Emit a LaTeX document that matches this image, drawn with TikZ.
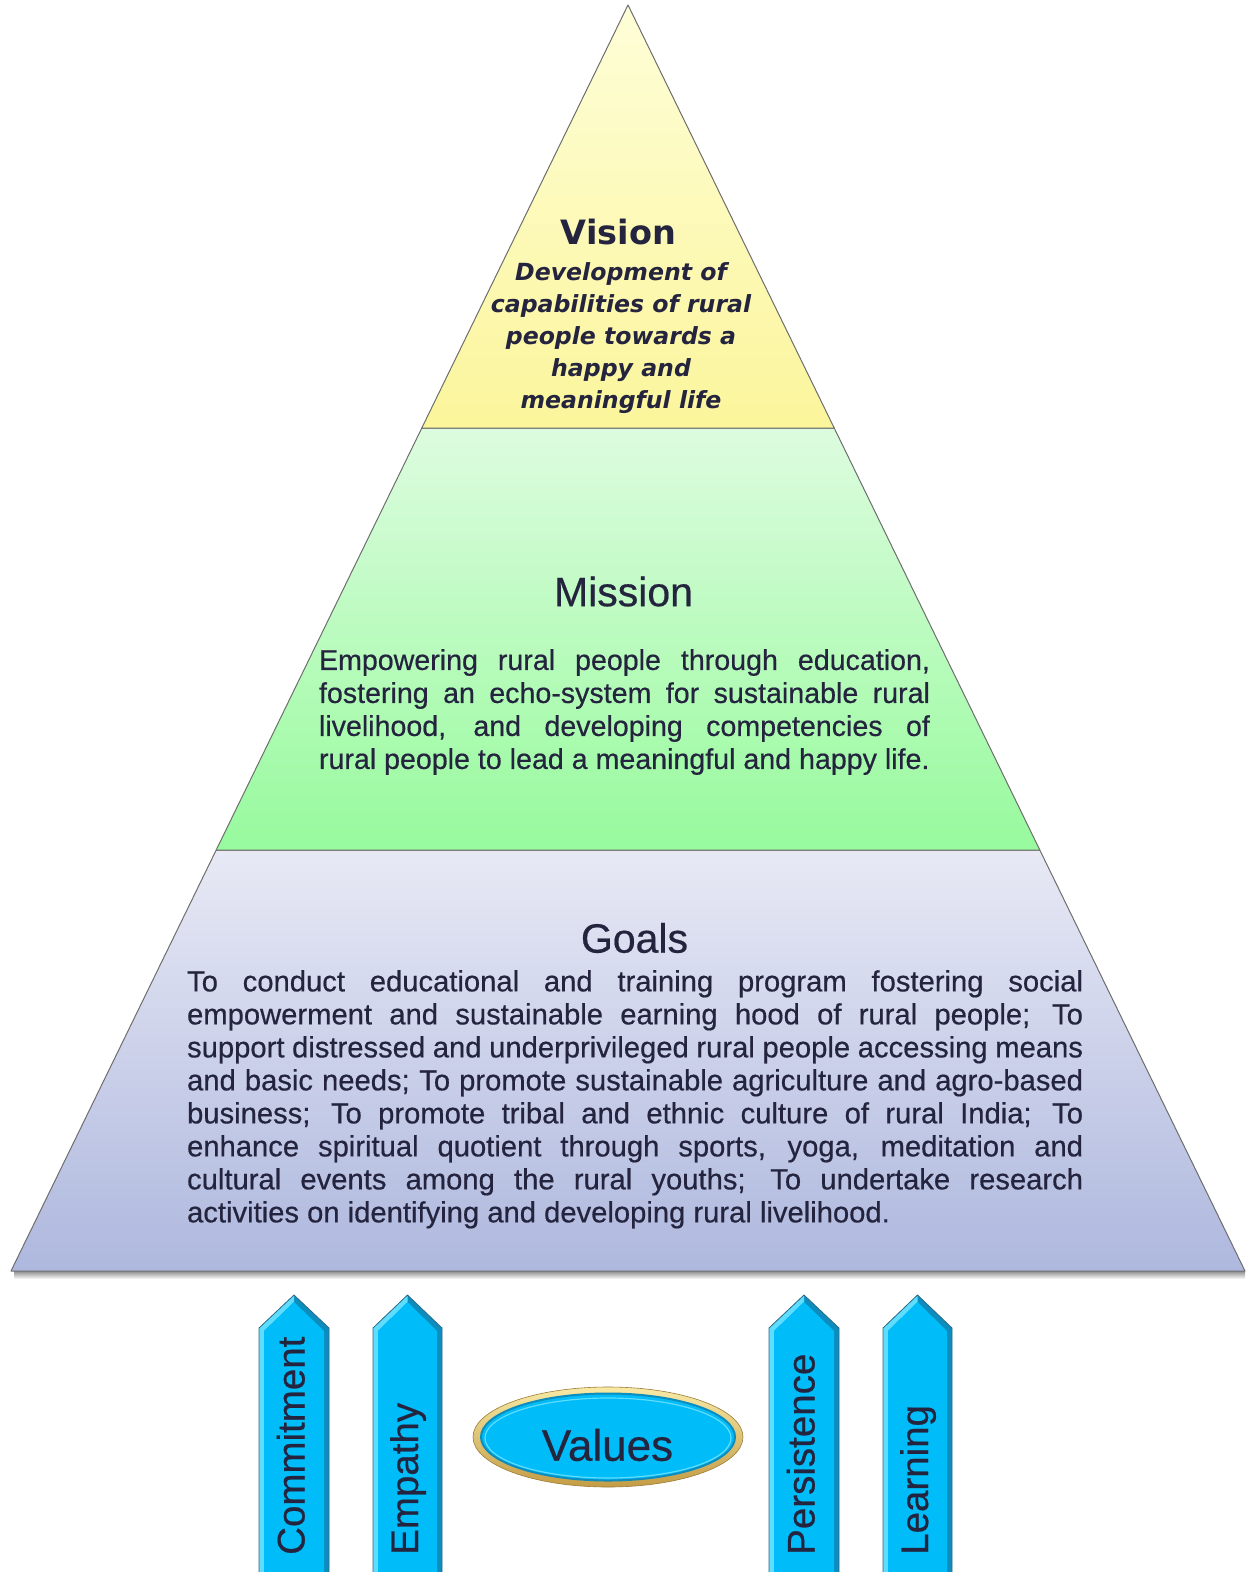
\documentclass[tikz,border=0pt]{standalone}
\usepackage{fontspec}
\setmainfont{Liberation Sans}
\newfontfamily\medsans{Liberation Sans}[FakeBold=0.5]
\newfontfamily\verd{DejaVu Sans}
\usetikzlibrary{shapes.geometric}
\definecolor{txt}{HTML}{24243E}
\definecolor{edgegray}{HTML}{6E6E6E}
\definecolor{visTop}{HTML}{FEFED8}
\definecolor{visBot}{HTML}{FBF59B}
\definecolor{misTop}{HTML}{DDFCDF}
\definecolor{misBot}{HTML}{97FA9D}
\definecolor{goaTop}{HTML}{E8E9F5}
\definecolor{goaBot}{HTML}{AEB8DE}
\definecolor{arrBody}{HTML}{00BCF8}
\definecolor{arrLight}{HTML}{5EDDFF}
\definecolor{arrDark}{HTML}{0C8DBD}
\definecolor{arrLine}{HTML}{2A6C88}
\definecolor{goldTop}{HTML}{F7EAA6}
\definecolor{goldBot}{HTML}{C49C45}
\tikzset{
  band/.style={draw=edgegray, line width=1pt, line join=round},
  bodytext/.style={text=txt, inner sep=0pt, align=justify},
  titletext/.style={text=txt, inner sep=0pt, font=\medsans\fontsize{41}{48}\selectfont},
  arrlabel/.style={text=txt, inner sep=0pt, rotate=90, anchor=base west, font=\medsans\fontsize{38.5}{44}\selectfont},
}
\begin{document}
\begin{tikzpicture}[x=1pt,y=-1pt]
\clip (0,0) rectangle (1246,1572);
\fill[white] (0,0) rectangle (1246,1572);
% base shadow
\shade[top color=black!45, bottom color=white] (14,1271) rectangle (1245,1279);
% pyramid bands
\path[band, top color=goaTop, bottom color=goaBot] (216.2,850) -- (1039.8,850) -- (1245,1271) -- (11,1271) -- cycle;
\path[band, top color=misTop, bottom color=misBot] (421.8,428) -- (834.2,428) -- (1039.8,850) -- (216.2,850) -- cycle;
\path[band, top color=visTop, bottom color=visBot] (628,5) -- (834.2,428) -- (421.8,428) -- cycle;
% Vision
\node[text=txt, inner sep=0pt, font=\verd\bfseries\fontsize{33.5}{38}\selectfont] (vtitle) at (618.5,232) {Vision};
\node[text=txt, inner sep=0pt, anchor=north, align=center, font=\verd\bfseries\itshape\fontsize{23.6}{32.2}\selectfont] (vbody) at (621,262)
  {Development of\\capabilities of rural\\people towards a\\happy and\\meaningful life};
% Mission
\node[titletext] (mtitle) at (623.5,591.5) {Mission};
\node[bodytext, text width=611pt, anchor=north west, font=\medsans\fontsize{28.6}{33}\selectfont] (mbody) at (318.8,649)
  {\hyphenpenalty=10000\exhyphenpenalty=10000\parfillskip=0pt
   Empowering rural people through education,\linebreak
   fostering an echo-system for sustainable rural\linebreak
   livelihood, and developing competencies of\linebreak
   rural people to lead a meaningful and happy life.};
% Goals
\node[titletext] (gtitle) at (634.5,938) {Goals};
\node[bodytext, text width=896pt, anchor=north west, font=\medsans\fontsize{29.2}{33}\selectfont] (gbody) at (186.9,970)
  {\hyphenpenalty=10000\exhyphenpenalty=10000
   To conduct educational and training program fostering social\linebreak
   empowerment and sustainable earning hood of rural people; To\linebreak
   support distressed and underprivileged rural people accessing means\linebreak
   and basic needs; To promote sustainable agriculture and agro-based\linebreak
   business; To promote tribal and ethnic culture of rural India; To\linebreak
   enhance spiritual quotient through sports, yoga, meditation and\linebreak
   cultural events among the rural youths; To undertake research\linebreak
   activities on identifying and developing rural livelihood.};
% value arrows
\foreach \l/\r/\t/\n in {259/329/Commitment/a1, 373/442/Empathy/a2, 769/839/Persistence/a3, 883/952/Learning/a4}{
  \pgfmathsetmacro{\m}{(\l+\r)/2}
  \fill[arrDark] (\l,1580) -- (\l,1328) -- (\m,1295) -- (\r,1328) -- (\r,1580) -- cycle;
  \fill[arrLight] (\l,1580) -- (\l,1328) -- (\m,1295) -- (\m,1302) -- (\l+5,1331) -- (\l+5,1580) -- cycle;
  \fill[arrBody] (\l+5,1580) -- (\l+5,1331) -- (\m,1302) -- (\r-5,1331) -- (\r-5,1580) -- cycle;
  \draw[arrLine, line width=0.8pt, line join=round] (\l,1580) -- (\l,1328) -- (\m,1295) -- (\r,1328) -- (\r,1580);
  \node[arrlabel] (\n) at (\m+10.5,1555) {\t};
}
% values ellipse
\node[ellipse, minimum width=270pt, minimum height=100pt, inner sep=0pt, draw=goldBot!80!black, line width=0.6pt,
      top color=goldTop, bottom color=goldBot] (ring) at (608,1437) {};
\node[ellipse, minimum width=254pt, minimum height=87pt, inner sep=0pt, draw=arrDark, line width=2pt,
      fill=arrBody] (vals) at (608,1437) {};
\node[ellipse, minimum width=246pt, minimum height=80pt, inner sep=0pt, draw=arrLight, line width=1.2pt] (valsin) at (608,1438) {};
\node[text=txt, inner sep=0pt, font=\medsans\fontsize{44}{50}\selectfont] (vlabel) at (607.5,1445) {Values};
\end{tikzpicture}
\end{document}
